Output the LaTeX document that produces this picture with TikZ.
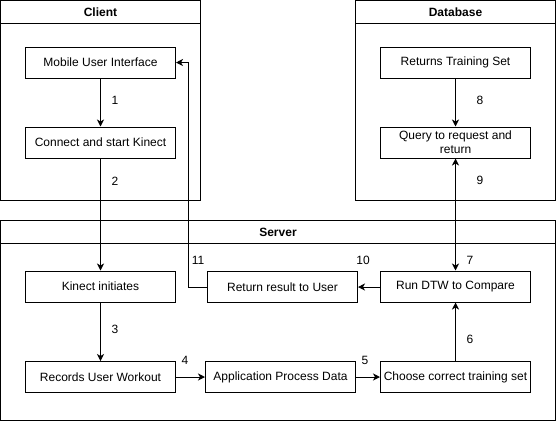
\documentclass[tikz,border=0pt]{standalone}
\usepackage{fontspec}
\setmainfont{Liberation Sans}
\usetikzlibrary{arrows.meta}
\begin{document}
\begin{tikzpicture}[x=1pt,y=-1pt,
  every node/.style={font=\fontsize{12}{14}\selectfont},
  box/.style={draw, line width=1pt, minimum width=150pt, minimum height=31pt, inner sep=0pt, align=center},
  frame/.style={draw, line width=1pt},
  lbl/.style={inner sep=0pt},
  hdr/.style={inner sep=0pt, font=\fontsize{12}{14}\selectfont\bfseries},
  arr/.style={line width=1pt, -{Stealth[length=7pt,width=7pt,inset=2pt]}},
  arrb/.style={line width=1pt, {Stealth[length=7pt,width=7pt,inset=2pt]}-{Stealth[length=7pt,width=7pt,inset=2pt]}}]
\useasboundingbox (0,0) rectangle (556,421);
% containers
\draw[frame] (0.5,0.5) rectangle (200.5,200.5);
\draw[frame] (0.5,23.5) -- (200.5,23.5);
\node[hdr] (hclient) at (100.5,12) {Client};
\draw[frame] (355.5,0.5) rectangle (555.5,200.5);
\draw[frame] (355.5,23.5) -- (555.5,23.5);
\node[hdr] (hdb) at (455.5,12) {Database};
\draw[frame] (0.5,220.5) rectangle (555.5,420.5);
\draw[frame] (0.5,243.5) -- (555.5,243.5);
\node[hdr] (hserver) at (278,232) {Server};
% boxes
\node[box] (mui) at (100.5,62.5) {Mobile User Interface};
\node[box] (csk) at (100.5,142.5) {Connect and start Kinect};
\node[box] (rts) at (455.5,62.5) {Returns Training Set};
\node[box] (qry) at (455.5,142.5) {Query to request and\\return};
\node[box] (kin) at (100.5,286.5) {Kinect initiates};
\node[box] (rec) at (100.5,377) {Records User Workout};
\node[box] (ret) at (282.5,287) {Return result to User};
\node[box] (dtw) at (455.5,286.5) {Run DTW to Compare};
\node[box] (app) at (280.5,377) {Application Process Data};
\node[box] (cho) at (455.5,377) {Choose correct training set};
% connectors
\draw[arr] (mui) -- (csk);
\draw[arr] (csk) -- (kin);
\draw[arr] (kin) -- (rec);
\draw[arr] (rec) -- (app);
\draw[arr] (app) -- (cho);
\draw[arr] (cho) -- (dtw);
\draw[arr] (rts) -- (qry);
\draw[arrb] (qry) -- (dtw);
\draw[arr] (dtw.west |- ret.east) -- (ret.east);
\coordinate (bend) at (188.5,287);
\draw[arr] (ret.west) -- (bend) |- (mui.east);
% labels
\node[lbl] (l1) at (115,100) {1};
\node[lbl] (l2) at (115,181) {2};
\node[lbl] (l3) at (115,329) {3};
\node[lbl] (l4) at (185,360) {4};
\node[lbl] (l5) at (365,360) {5};
\node[lbl] (l6) at (470,339) {6};
\node[lbl] (l7) at (470,260) {7};
\node[lbl] (l8) at (480,100) {8};
\node[lbl] (l9) at (480,180) {9};
\node[lbl] (l10) at (363,260) {10};
\node[lbl] (l11) at (198,260) {11};
\end{tikzpicture}
\end{document}
